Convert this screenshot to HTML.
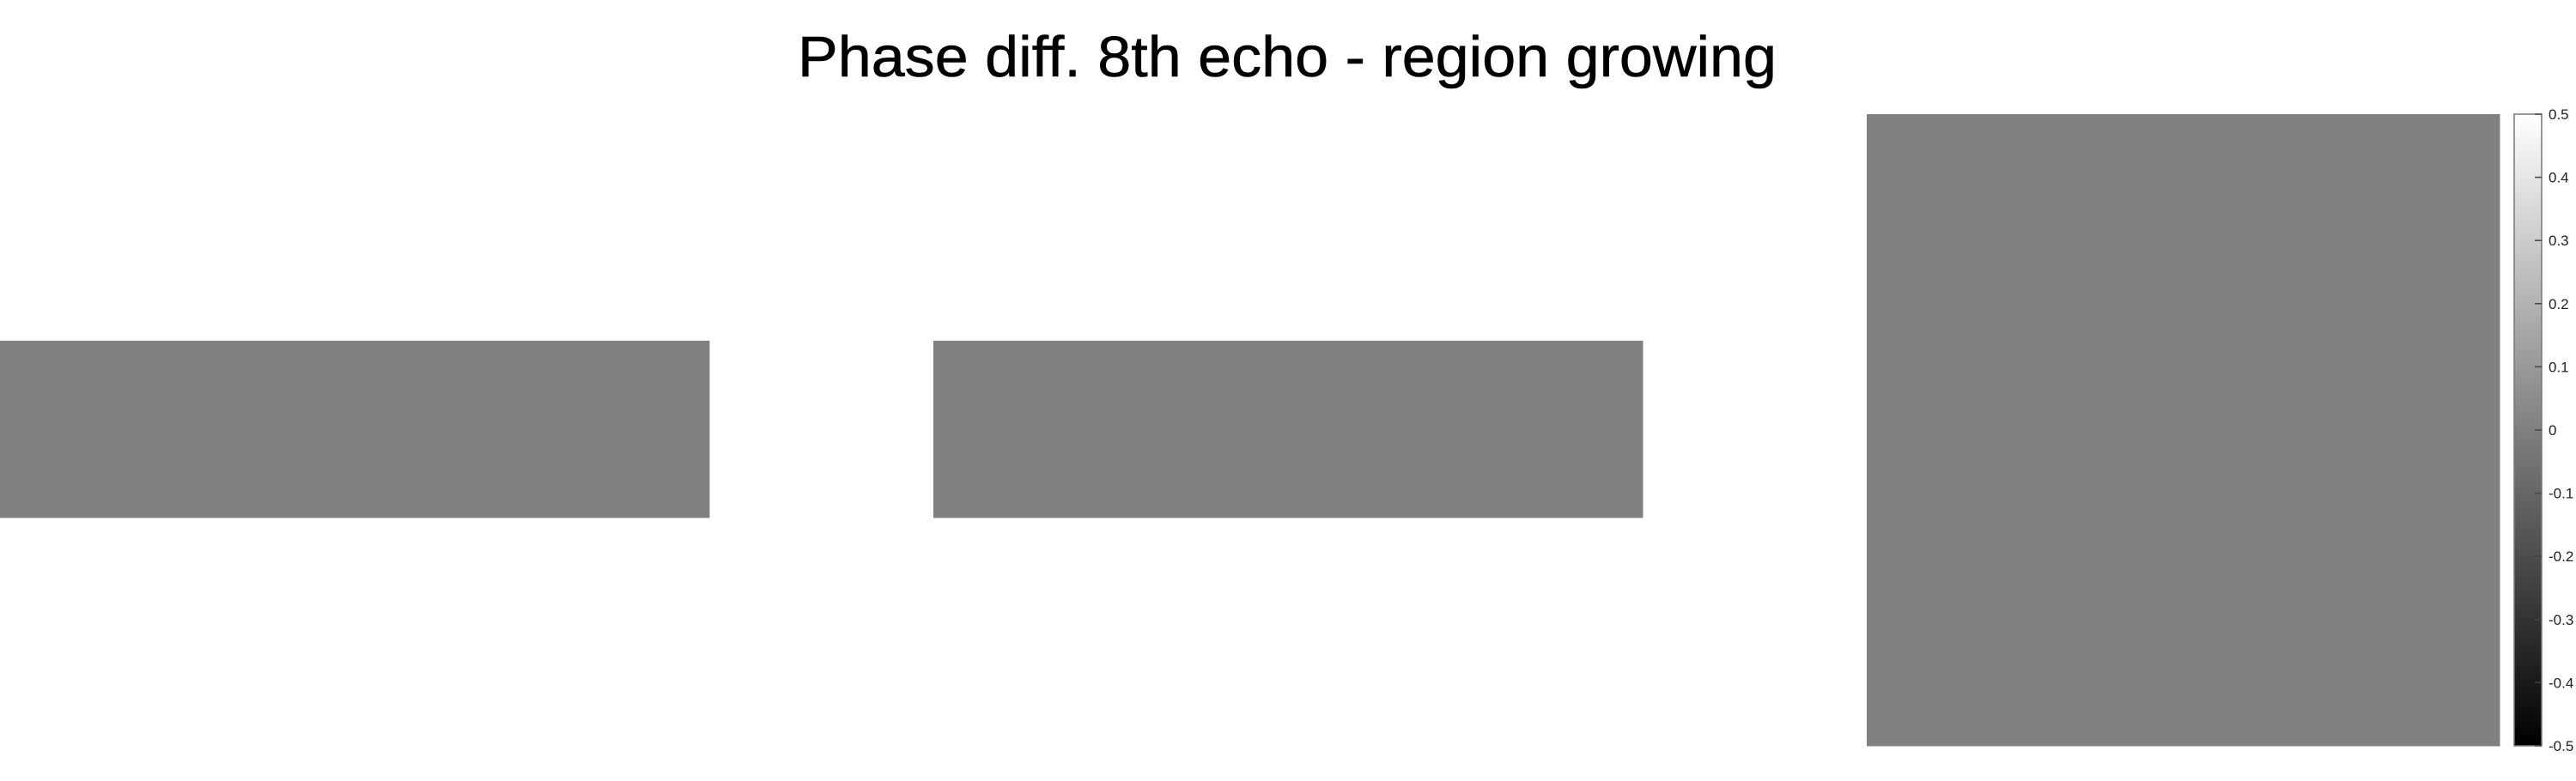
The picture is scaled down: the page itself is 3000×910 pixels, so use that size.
<!DOCTYPE html>
<html><head><meta charset="utf-8"><style>
html,body{margin:0;padding:0;background:#fff;width:3000px;height:910px;overflow:hidden}
svg{display:block;font-family:"Liberation Sans",Arial,sans-serif}
</style></head><body>
<svg id="fig" width="3000" height="910" viewBox="0 0 3000 910">
<defs><linearGradient id="cbg" x1="0" y1="1" x2="0" y2="0"><stop offset="0" stop-color="#000"/><stop offset="1" stop-color="#fff"/></linearGradient></defs>
<text x="1499" y="89" font-size="67" text-anchor="middle" textLength="1140" lengthAdjust="spacingAndGlyphs" fill="#000" stroke="#000" stroke-width="0.6">Phase diff. 8th echo - region growing</text>
<g id="panels"></g>
<g id="colorbar"></g>
</svg>
<script>
// heatmap values (phase difference, nearly zero everywhere)
const panel1Values = [[0.001,0.001,0.000,0.000],[0.001,0.001,0.001,0.000],[0.001,0.001,0.000,0.000]];
const panel2Values = [[0.000,0.001,0.000,0.000],[0.000,0.001,0.001,0.000],[0.000,0.001,0.001,0.000]];
const panel3Values = [[0.000,0.000,0.000,0.000],[0.000,0.001,0.001,0.000],[0.000,0.001,0.001,0.000],[0.000,0.000,0.000,0.000]];
const cbTicks = [0.5,0.4,0.3,0.2,0.1,0,-0.1,-0.2,-0.3,-0.4,-0.5];
const cbTickLabels = ["0.5","0.4","0.3","0.2","0.1","0","-0.1","-0.2","-0.3","-0.4","-0.5"];
const cMin = -0.5, cMax = 0.5;

const NS = "http://www.w3.org/2000/svg";
function color(v){const t=Math.max(0,Math.min(1,(v-cMin)/(cMax-cMin)));const g=Math.round(t*255);return `rgb(${g},${g},${g})`;}
const layouts=[
 {vals:panel1Values,x:0,y:397,w:826,h:206,name:'panel-left'},
 {vals:panel2Values,x:1087,y:397,w:826,h:206,name:'panel-middle'},
 {vals:panel3Values,x:2174,y:133,w:737,h:736,name:'panel-right'}];
const pg=document.getElementById('panels');
layouts.forEach(L=>{
 const g=document.createElementNS(NS,'g');
 
 
 const rows=L.vals.length, cols=L.vals[0].length;
 const cw=L.w/cols, ch=L.h/rows;
 L.vals.forEach((row,r)=>row.forEach((v,c)=>{
  const rc=document.createElementNS(NS,'rect');
  rc.setAttribute('x',L.x+c*cw);rc.setAttribute('y',L.y+r*ch);
  rc.setAttribute('width',cw+0.5);rc.setAttribute('height',ch+0.5);
  rc.setAttribute('fill',color(v));
  
  
  g.appendChild(rc);
 }));
 pg.appendChild(g);
});
// colorbar
const cb=document.getElementById('colorbar');
const cbX=2928,cbW=32,cbTop=133,cbBot=869;
function cy(v){return cbBot-(v-cMin)/(cMax-cMin)*(cbBot-cbTop);}
const bar=document.createElementNS(NS,'rect');
bar.setAttribute('x',cbX);bar.setAttribute('y',cbTop);bar.setAttribute('width',cbW);bar.setAttribute('height',cbBot-cbTop);
bar.setAttribute('fill','url(#cbg)');bar.setAttribute('stroke','#777');bar.setAttribute('stroke-width','1.5');


cb.appendChild(bar);
cbTicks.forEach((t,i)=>{
 const y=cy(t);
 const ln=document.createElementNS(NS,'line');
 ln.setAttribute('x1',cbX+cbW-8);ln.setAttribute('x2',cbX+cbW);ln.setAttribute('y1',y);ln.setAttribute('y2',y);
 ln.setAttribute('stroke','#444');ln.setAttribute('stroke-width','1.5');
 
 
 cb.appendChild(ln);
 const tx=document.createElementNS(NS,'text');
 tx.setAttribute('x',2968);tx.setAttribute('y',y+6);tx.setAttribute('font-size','17');tx.setAttribute('fill','#222');
 tx.textContent=cbTickLabels[i];
 
 
 cb.appendChild(tx);
});
</script>
</body></html>
